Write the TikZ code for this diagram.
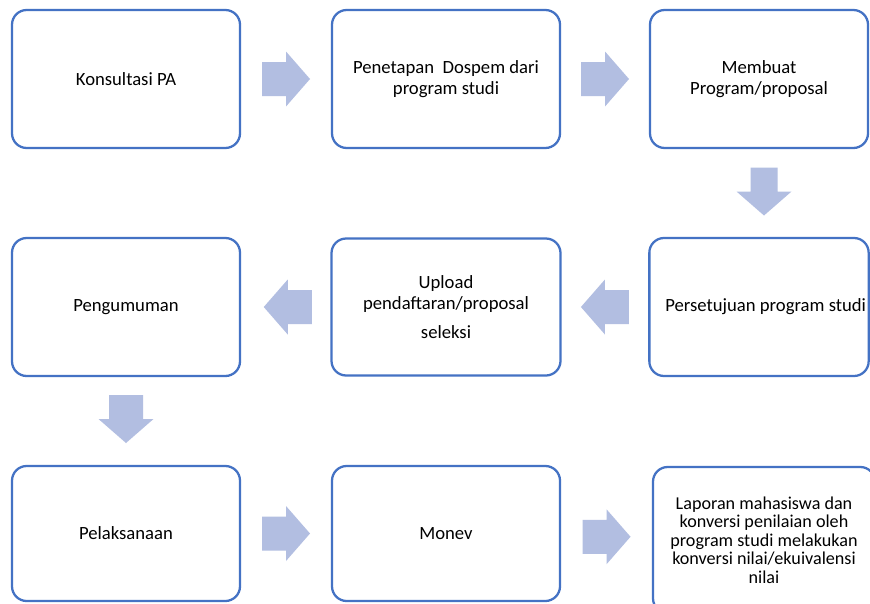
\documentclass[tikz,border=0pt]{standalone}
\usepackage{fontspec}
\setmainfont{Carlito}
\usetikzlibrary{calc}
\definecolor{boxline}{RGB}{68,114,196}
\definecolor{arrowfill}{RGB}{178,190,225}
\tikzset{
    stage/.style={draw=boxline, line width=1.7pt, rounded corners=11pt, fill=white,
        minimum width=171pt, minimum height=103.5pt, align=center, inner sep=2pt,
        font=\fontsize{14}{16}\selectfont},
    pics/flowarrow/.style={code={
        \fill[arrowfill] (-24,-#1) -- (0,-#1) -- (0,-27.5) -- (24,0) -- (0,27.5) -- (0,#1) -- (-24,#1) -- cycle;
    }},
    pics/flowarrow/.default=17
}
\begin{document}
\begin{tikzpicture}[x=0.75pt, y=-0.75pt]
        %Page
            \clip (0,0) rectangle (870,603);
            \fill[white] (0,0) rectangle (870,603);
        %Row one
            \path node (konsultasi) at (126,79) [stage] {Konsultasi PA};
            \path node (penetapan) at (446,79) [stage] {Penetapan\ \ Dospem dari\\program studi};
            \path node (membuat) at (759,79) [stage, minimum width=163.5pt] {Membuat\\Program/proposal};
        %Row two
            \path node (persetujuan) at (759,307) [stage, minimum width=163.5pt] {\hspace*{10pt}Persetujuan program studi};
            \path node (upload) at (446,307) [stage, minimum width=171.75pt, minimum height=102.75pt] {Upload\\pendaftaran/proposal\\[6pt]seleksi};
            \path node (pengumuman) at (126,307) [stage] {Pengumuman};
        %Row three
            \path node (pelaksanaan) at (126,533.5) [stage, minimum height=101.25pt] {Pelaksanaan};
            \path node (monev) at (446,533.5) [stage, minimum height=101.25pt] {Monev};
            \path node (laporan) at (764,540) [stage, minimum width=166.5pt, minimum height=109.5pt,
                font=\fontsize{13.6}{13.9}\selectfont] {Laporan mahasiswa dan\\konversi penilaian oleh\\program studi melakukan\\konversi nilai/ekuivalensi\\nilai};
        %Arrows
            \pic at ($(konsultasi.east)!.5!(penetapan.west)$) {flowarrow};
            \pic at ($(penetapan.east)!.5!(membuat.west)$) {flowarrow};
            \pic[rotate=-90] at ($(membuat.south)!.5!(persetujuan.north)+(5,-1.5)$) {flowarrow=13.5};
            \pic[rotate=180] at ($(persetujuan.west)!.5!(upload.east)$) {flowarrow};
            \pic[rotate=180] at ($(upload.west)!.5!(pengumuman.east)+(2,0)$) {flowarrow};
            \pic[rotate=-90] at ($(pengumuman.south)!.5!(pelaksanaan.north)+(0,-2)$) {flowarrow};
            \pic at ($(pelaksanaan.east)!.5!(monev.west)$) {flowarrow};
            \pic at ($(monev.east)!.5!(laporan.west)$) {flowarrow};
\end{tikzpicture}
\end{document}
